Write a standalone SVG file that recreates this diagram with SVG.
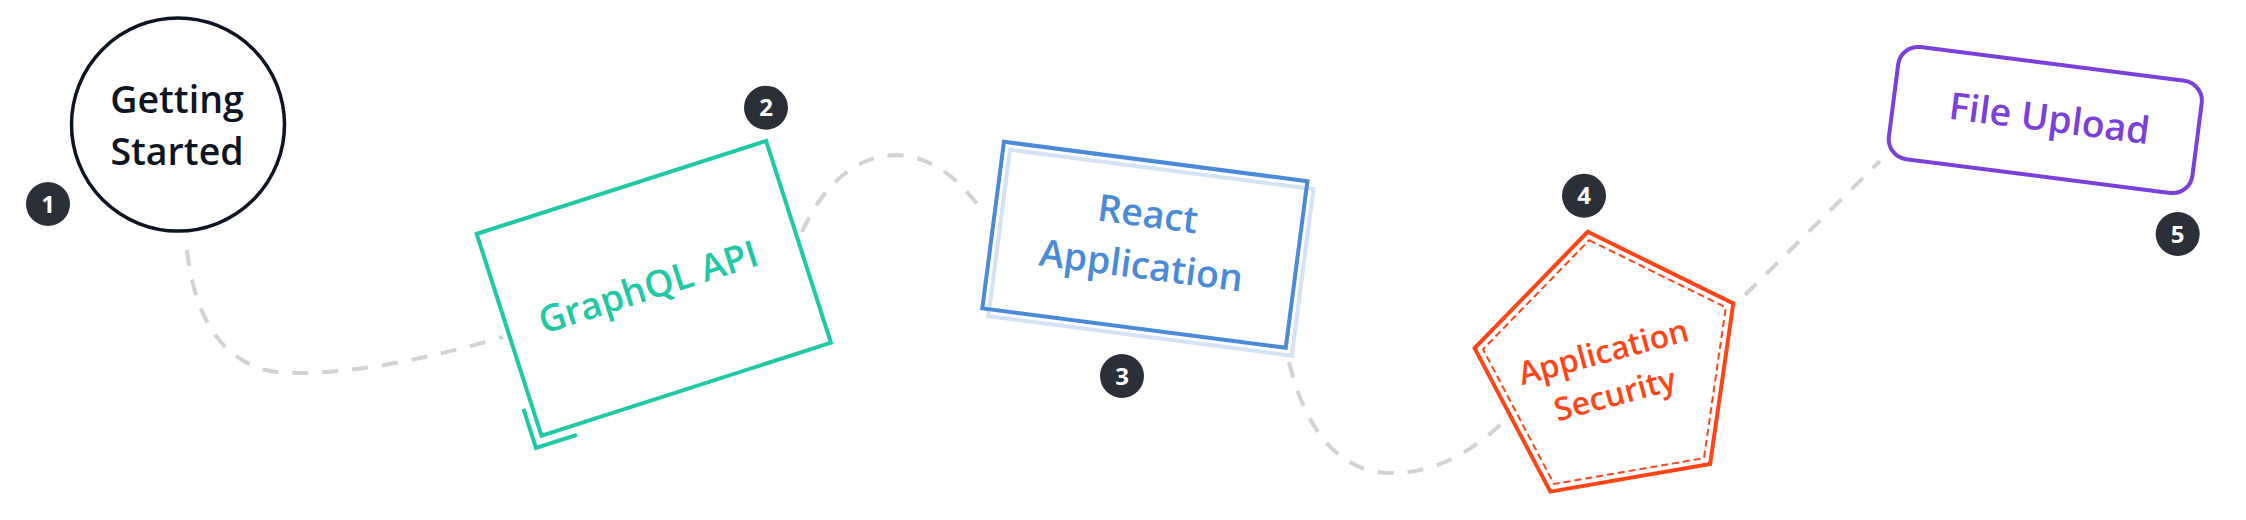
<svg xmlns="http://www.w3.org/2000/svg" width="2246" height="520" viewBox="0 0 2246 520">
<style>
  .lbl { font-family: "Open Sans", "Noto Sans", "Liberation Sans", sans-serif; text-anchor: middle; }
  .conn { fill: none; stroke: #d3d3d3; stroke-width: 4; stroke-dasharray: 16 14; }
  .badge circle { fill: #2b2f38; }
  .badge text { font-family: "Open Sans", "Noto Sans", "Liberation Sans", sans-serif; font-size: 24px; font-weight: 700; fill: #ffffff; text-anchor: middle; }
</style>
<rect x="0" y="0" width="2246" height="520" fill="#ffffff"/>

<g id="connectors">
  <path class="conn" d="M 187 250 C 196 330, 232 373, 292 373 C 362 374, 440 355, 503 337"/>
  <path class="conn" d="M 802 232 C 825 180, 860 155, 897 155 C 935 156, 965 185, 984 214"/>
  <path class="conn" d="M 1289 362 C 1305 430, 1340 473, 1390 473 C 1440 474, 1480 445, 1505 420"/>
  <path class="conn" d="M 1745 295 L 1880 161"/>
</g>

<g id="node-getting-started">
  <circle cx="178" cy="124.5" r="106.5" fill="none" stroke="#0d1422" stroke-width="3.5"/>
  <text class="lbl" x="177" y="113" font-size="37.5" font-weight="600" fill="#0d1422">Getting</text>
  <text class="lbl" x="177" y="165" font-size="37.5" font-weight="600" fill="#0d1422">Started</text>
</g>

<g id="node-graphql" transform="translate(653.8,288.3) rotate(-17.8)">
  <rect x="-152" y="-106" width="304" height="212" fill="none" stroke="#1fc9a6" stroke-width="4"/>
  <path d="M -161 75 V 116 H -118" fill="none" stroke="#1fc9a6" stroke-width="4"/>
  <text class="lbl" x="-5" y="10" font-size="37" font-weight="600" fill="#1fc9a6">GraphQL API</text>
</g>

<g id="node-react" transform="translate(1144.85,244.8) rotate(7.4)">
  <rect x="-146" y="-77" width="306" height="168" fill="none" stroke="#d4e2f6" stroke-width="4"/>
  <rect x="-153" y="-84" width="306" height="168" fill="none" stroke="#4a8ad8" stroke-width="4"/>
  <text class="lbl" x="-1" y="-18" font-size="37.5" font-weight="600" fill="#4a8ad8">React</text>
  <text class="lbl" x="-1" y="34" font-size="37.5" font-weight="600" fill="#4a8ad8">Application</text>
</g>

<g id="node-security">
  <polygon points="1587.7,231.8 1733.3,303.4 1710.1,464.0 1550.3,491.6 1474.6,348.1" fill="none" stroke="#ff4517" stroke-width="4"/>
  <polygon points="1589.2,240.2 1725.8,307.4 1704.0,458.1 1554.0,484.0 1483.0,349.3" fill="none" stroke="#ff4517" stroke-width="2" stroke-dasharray="7 4"/>
  <g transform="translate(1612,384) rotate(-15)">
    <text class="lbl" x="0" y="-22" font-size="32" font-weight="600" fill="#ff4517">Application</text>
    <text class="lbl" x="0" y="22" font-size="32" font-weight="600" fill="#ff4517">Security</text>
  </g>
</g>

<g id="node-file-upload" transform="translate(2045.3,120) rotate(7.3)">
  <rect x="-153" y="-56.5" width="306" height="113" rx="20" ry="20" fill="none" stroke="#7b3fdc" stroke-width="4"/>
  <text class="lbl" x="4" y="11" font-size="37.5" font-weight="600" fill="#7b3fdc">File Upload</text>
</g>

<g id="badge-1" class="badge"><circle cx="48" cy="204" r="22"/><text x="48" y="212.5">1</text></g>
<g id="badge-2" class="badge"><circle cx="766" cy="107.7" r="22"/><text x="766" y="116.2">2</text></g>
<g id="badge-3" class="badge"><circle cx="1122" cy="376" r="22"/><text x="1122" y="384.5">3</text></g>
<g id="badge-4" class="badge"><circle cx="1584" cy="195.7" r="22"/><text x="1584" y="204.2">4</text></g>
<g id="badge-5" class="badge"><circle cx="2177.7" cy="234" r="22"/><text x="2177.7" y="242.5">5</text></g>
</svg>
